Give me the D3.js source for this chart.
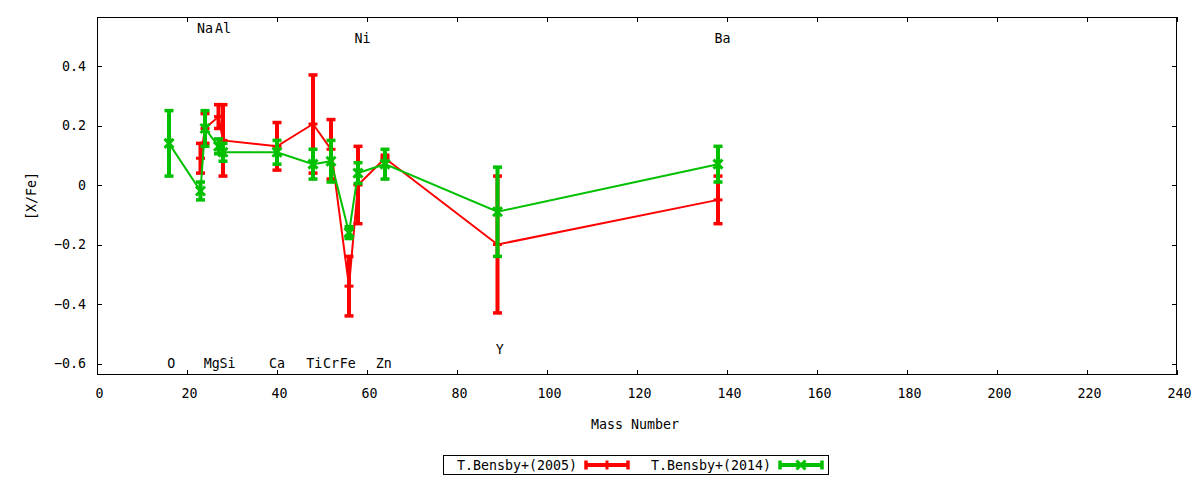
<!DOCTYPE html>
<html>
<head>
<meta charset="utf-8">
<script src="https://cdn.jsdelivr.net/npm/d3@7"></script>
<style>
  html, body { margin: 0; padding: 0; background: #fff; }
  svg { display: block; }
  text { font-family: "DejaVu Sans Mono", monospace; font-size: 13.3px; fill: #000; }
</style>
</head>
<body>
<svg id="chart" width="1200" height="480"></svg>
<script>
// ---- data ----
const elements2005 = ["Na","Mg","Al","Si","Ca","Ti","Cr","Fe","Ni","Zn","Y","Ba"];
const mass2005     = [23, 24, 27, 28, 40, 48, 52, 56, 58, 64, 89, 138];
const value2005    = [0.09, 0.19, 0.23, 0.15, 0.13, 0.205, 0.12, -0.34, 0.0, 0.09, -0.20, -0.05];
const error2005    = [0.05, 0.05, 0.04, 0.12, 0.08, 0.165, 0.10, 0.10, 0.13, 0.01, 0.23, 0.08];

const elements2014 = ["O","Na","Mg","Al","Si","Ca","Ti","Cr","Fe","Ni","Zn","Y","Ba"];
const mass2014     = [16, 23, 24, 27, 28, 40, 48, 52, 56, 58, 64, 89, 138];
const value2014    = [0.14, -0.02, 0.19, 0.13, 0.11, 0.11, 0.07, 0.08, -0.16, 0.04, 0.07, -0.09, 0.07];
const error2014    = [0.11, 0.03, 0.06, 0.025, 0.03, 0.04, 0.05, 0.07, 0.02, 0.035, 0.05, 0.15, 0.06];

const labelNames = ["Na","Al","Ni","Ba","O","Mg","Si","Ca","Ti","Cr","Fe","Zn","Y"];
const labelX     = [24, 28, 59, 139, 16.5, 25.5, 29, 40, 48.3, 52, 55.7, 63.7, 89.5];
const labelY     = [0.528, 0.528, 0.494, 0.494, -0.598, -0.598, -0.598, -0.598, -0.598, -0.598, -0.598, -0.598, -0.551];

const xTicks = [0, 20, 40, 60, 80, 100, 120, 140, 160, 180, 200, 220, 240];
const yTicks = [-0.6, -0.4, -0.2, 0, 0.2, 0.4];
const seriesNames = ["T.Bensby+(2005)", "T.Bensby+(2014)"];

// ---- layout ----
const L = 97, R = 1177, T = 17, B = 375;
const svg = d3.select("#chart");
const x = d3.scaleLinear().domain([0, 240]).range([L, R]);
const y = d3.scaleLinear().domain([-0.6386, 0.5647]).range([B, T]);
const TICK = 5;

// axes (ticks inward, mirrored)
const gx = svg.append("g").attr("transform", `translate(0,${B})`)
  .call(d3.axisBottom(x).tickValues(xTicks).tickSizeInner(-TICK).tickSizeOuter(0).tickPadding(19).tickFormat(d3.format("d")));
const gxt = svg.append("g").attr("transform", `translate(0,${T})`)
  .call(d3.axisTop(x).tickValues(xTicks).tickSizeInner(-TICK).tickSizeOuter(0).tickFormat(""));
const gy = svg.append("g").attr("transform", `translate(${L},0)`)
  .call(d3.axisLeft(y).tickValues(yTicks).tickSizeInner(-TICK).tickSizeOuter(0).tickPadding(11)
    .tickFormat(d => d === 0 ? "0" : d3.format(".1f")(d)));
const gyr = svg.append("g").attr("transform", `translate(${R},0)`)
  .call(d3.axisRight(y).tickValues(yTicks).tickSizeInner(-TICK).tickSizeOuter(0).tickFormat(""));
[gx, gxt, gy, gyr].forEach(g => {
  g.select(".domain").remove();
  g.selectAll("line").attr("stroke", "#000").attr("stroke-width", 1).attr("shape-rendering", "crispEdges");
  g.selectAll("text").attr("font-family", "DejaVu Sans Mono").attr("font-size", 13.3).attr("fill", "#000");
});
gx.selectAll("text").attr("dy", "0.32em").attr("dx", 2);
svg.append("rect").attr("x", L + 0.5).attr("y", T + 0.5).attr("width", R - L - 1).attr("height", B - T - 1)
  .attr("fill", "none").attr("stroke", "#000").attr("stroke-width", 1).attr("shape-rendering", "crispEdges");

// axis titles
svg.append("text").attr("transform", `translate(36,${(T + B) / 2}) rotate(-90)`)
  .attr("text-anchor", "middle").text("[X/Fe]");
svg.append("text").attr("x", 635).attr("y", 429).attr("text-anchor", "middle").text("Mass Number");

// element labels
svg.append("g").selectAll("text").data(labelNames).join("text")
  .attr("x", (d, i) => x(labelX[i])).attr("y", (d, i) => y(labelY[i]))
  .attr("dy", "0.35em").attr("text-anchor", "middle").text(d => d);

// ---- series ----
const CAP = 4.5, BARW = 4, CAPW = 3.5, LINEW = 2, PT = 4.5, PTW = 3;

function drawMarker(g, cx, cy, kind, color) {
  if (kind === "plus") {
    g.append("line").attr("x1", cx - PT).attr("x2", cx + PT).attr("y1", cy).attr("y2", cy)
      .attr("stroke", color).attr("stroke-width", PTW);
    g.append("line").attr("x1", cx).attr("x2", cx).attr("y1", cy - PT).attr("y2", cy + PT)
      .attr("stroke", color).attr("stroke-width", PTW);
  } else {
    g.append("line").attr("x1", cx - PT).attr("x2", cx + PT).attr("y1", cy - PT).attr("y2", cy + PT)
      .attr("stroke", color).attr("stroke-width", PTW);
    g.append("line").attr("x1", cx - PT).attr("x2", cx + PT).attr("y1", cy + PT).attr("y2", cy - PT)
      .attr("stroke", color).attr("stroke-width", PTW);
  }
}

function drawSeries(mass, vals, errs, color, kind) {
  const g = svg.append("g");
  const pts = mass.map((m, i) => [m, vals[i], errs[i]]);
  g.append("path").datum(pts)
    .attr("d", d3.line().x(d => x(d[0])).y(d => y(d[1])))
    .attr("fill", "none").attr("stroke", color).attr("stroke-width", LINEW);
  pts.forEach(([m, v, e]) => {
    const cx = x(m), y1 = y(v + e), y2 = y(v - e);
    g.append("line").attr("x1", cx).attr("x2", cx).attr("y1", y1).attr("y2", y2)
      .attr("stroke", color).attr("stroke-width", BARW);
    [y1, y2].forEach(yy => g.append("line").attr("x1", cx - CAP).attr("x2", cx + CAP).attr("y1", yy).attr("y2", yy)
      .attr("stroke", color).attr("stroke-width", CAPW));
    drawMarker(g, cx, y(v), kind, color);
  });
}

drawSeries(mass2005, value2005, error2005, "#ff0000", "plus");
drawSeries(mass2014, value2014, error2014, "#00c000", "cross");

// ---- legend ----
const lg = svg.append("g");
lg.append("rect").attr("x", 443.5).attr("y", 455.5).attr("width", 385).attr("height", 19)
  .attr("fill", "none").attr("stroke", "#000").attr("stroke-width", 1).attr("shape-rendering", "crispEdges");
const legendItems = [
  { name: seriesNames[0], color: "#ff0000", kind: "plus", textEnd: 577, x0: 586, x1: 628 },
  { name: seriesNames[1], color: "#00c000", kind: "cross", textEnd: 771, x0: 780, x1: 822 }
];
legendItems.forEach(it => {
  const ly = 465;
  lg.append("text").attr("x", it.textEnd).attr("y", ly).attr("dy", "0.35em").attr("text-anchor", "end").text(it.name);
  lg.append("line").attr("x1", it.x0).attr("x2", it.x1).attr("y1", ly).attr("y2", ly)
    .attr("stroke", it.color).attr("stroke-width", BARW);
  [it.x0, it.x1].forEach(xx => lg.append("line").attr("x1", xx).attr("x2", xx).attr("y1", ly - CAP).attr("y2", ly + CAP)
    .attr("stroke", it.color).attr("stroke-width", CAPW));
  drawMarker(lg, (it.x0 + it.x1) / 2, ly, it.kind, it.color);
});
</script>
</body>
</html>
